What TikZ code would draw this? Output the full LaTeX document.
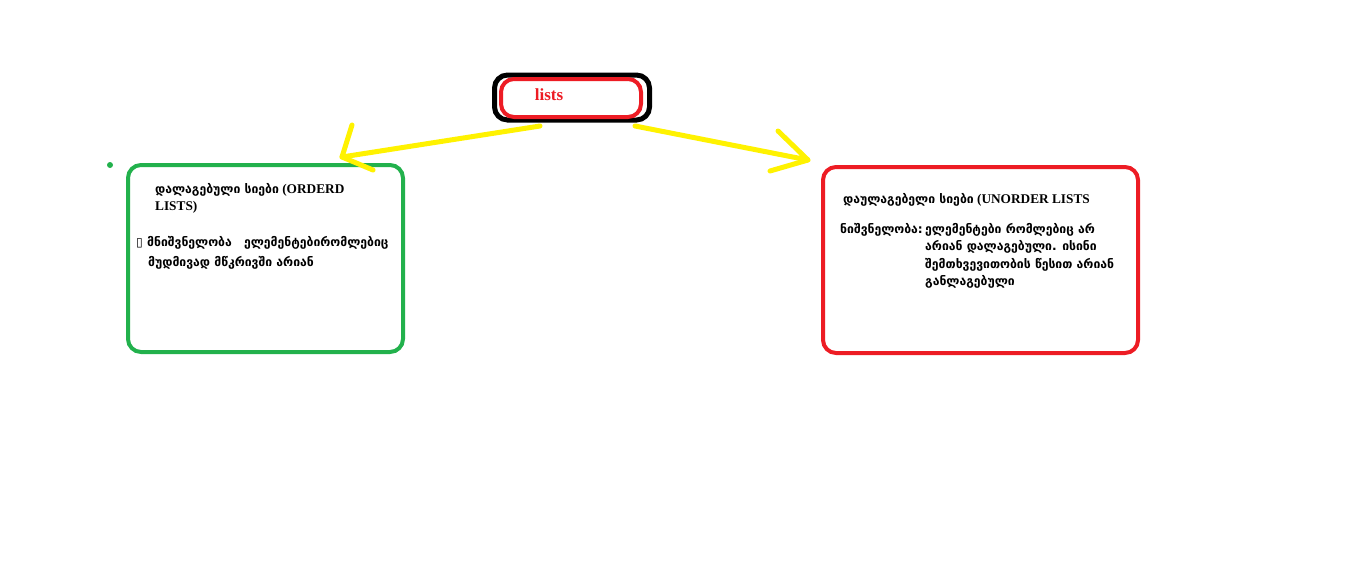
\documentclass[tikz,border=0pt]{standalone}
\usepackage{fontspec}
\setmainfont{Liberation Serif}
\newfontfamily\geo{DejaVu Sans}
\usetikzlibrary{calc}
\definecolor{paintgreen}{HTML}{22B14C}
\definecolor{paintred}{HTML}{ED1C24}
\definecolor{paintyellow}{HTML}{FFF200}
\tikzset{
  listbox/.style={draw,rounded corners=13pt,line width=4pt,fill=white},
  txt/.style={anchor=north west,inner sep=0pt,align=left,font=\fontsize{13.3}{17.5}\selectfont\bfseries},
  arrowline/.style={draw=paintyellow,line width=5pt,line cap=round,line join=round}
}
\newcommand{\ka}[1]{{\geo\fontsize{12.2}{17}\selectfont #1}}

\begin{document}
\begin{tikzpicture}[x=1pt,y=-1pt]
  \useasboundingbox (0,0) rectangle (1351,570);
  % top node
  \node[listbox,draw=black,line width=5pt,minimum width=155pt,minimum height=45pt] (outer) at (572,97.5) {};
  \node[listbox,draw=paintred,minimum width=140pt,minimum height=38pt] (lists) at (571,98) {};
  \node[font=\fontsize{17}{19}\selectfont\bfseries,text=paintred] (liststxt) at (549,95) {lists};
  % the two list boxes
  \node[listbox,draw=paintgreen,minimum width=275pt,minimum height=187pt] (ordered) at (265.5,258.5) {};
  \node[listbox,draw=paintred,minimum width=315pt,minimum height=186pt] (unordered) at (980.5,260) {};
  \fill[paintgreen] (110,165) circle (3pt) coordinate (dot);
  % texts
  \node[txt] (otitle) at (155,183) {\ka{დალაგებული სიები} (ORDERD\\LISTS)};
  \node[txt,font=\fontsize{13.3}{20}\selectfont\bfseries] (oval) at (136,236) {\ka{▯ მნიშვნელობა\quad ელემენტებირომლებიც}\\\hspace*{12pt}\ka{მუდმივად მწკრივში არიან}};
  \node[txt] (utitle) at (843,193) {\ka{დაულაგებელი სიები} (UNORDER LISTS};
  \node[txt] (ukey) at (840,223) {\ka{ნიშვნელობა:}};
  \node[txt] (uval) at (925,223) {\ka{ელემენტები რომლებიც არ}\\\ka{არიან დალაგებული. ისინი}\\\ka{შემთხვევითობის წესით არიან}\\\ka{განლაგებული}};
  % arrows
  \coordinate (lstart) at (540,126);
  \coordinate (ltip) at (342,157);
  \coordinate (rstart) at (635,126);
  \coordinate (rtip) at (808,160);
  \draw[arrowline] (lstart) -- (ltip) -- ++(10,-32);
  \draw[arrowline] (ltip) -- ++(31,13);
  \draw[arrowline] (rstart) -- (rtip) -- ++(-30,-29);
  \draw[arrowline] (rtip) -- ++(-38,11);
\end{tikzpicture}
\end{document}
